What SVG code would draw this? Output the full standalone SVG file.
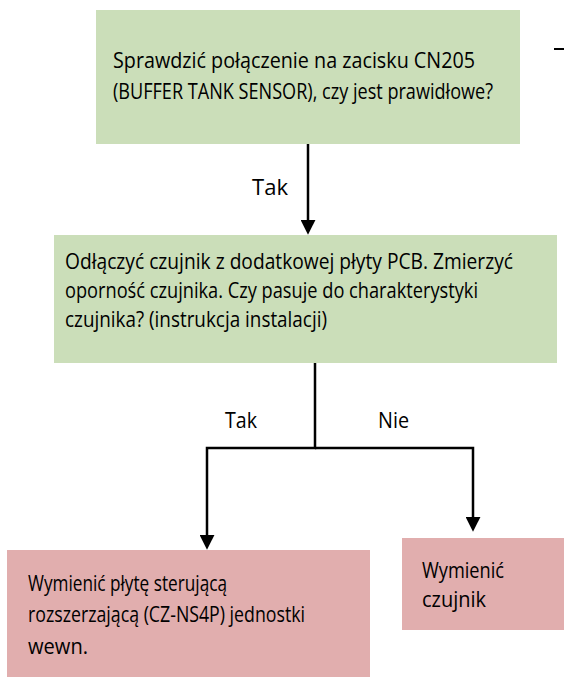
<svg xmlns="http://www.w3.org/2000/svg" width="564" height="677" viewBox="0 0 564 677">
<defs>
<style>
.green{fill:#cbdeb9;}
.pink{fill:#e1aeae;}
.t{font-family:"Open Sans",Lato,"Liberation Sans",sans-serif;font-size:21px;fill:#000;}
.c{fill:none;stroke:#000;stroke-width:2.5;}
</style>
<marker id="ah" viewBox="0 0 14 14" refX="2" refY="7" markerWidth="15" markerHeight="15" markerUnits="userSpaceOnUse" orient="auto">
<path d="M0,0 L14,7 L0,14 z" fill="#000"/>
</marker>
</defs>
<rect width="564" height="677" fill="#fff"/>
<g id="n1">
<rect class="green" x="96" y="10" width="424" height="134"/>
<text class="t" x="113" y="68" textLength="362" lengthAdjust="spacingAndGlyphs">Sprawdzić połączenie na zacisku CN205</text>
<text class="t" x="113" y="99" textLength="380" lengthAdjust="spacingAndGlyphs">(BUFFER TANK SENSOR), czy jest prawidłowe?</text>
</g>
<g id="n2">
<rect class="green" x="54" y="235" width="503" height="128"/>
<text class="t" x="65" y="269" textLength="448" lengthAdjust="spacingAndGlyphs">Odłączyć czujnik z dodatkowej płyty PCB. Zmierzyć</text>
<text class="t" x="65" y="298" textLength="413" lengthAdjust="spacingAndGlyphs">oporność czujnika. Czy pasuje do charakterystyki</text>
<text class="t" x="65" y="327" textLength="262" lengthAdjust="spacingAndGlyphs">czujnika? (instrukcja instalacji)</text>
</g>
<g id="n3">
<rect class="pink" x="7" y="550" width="363" height="127"/>
<text class="t" x="28" y="591" textLength="199" lengthAdjust="spacingAndGlyphs">Wymienić płytę sterującą</text>
<text class="t" x="28" y="622" textLength="277" lengthAdjust="spacingAndGlyphs">rozszerzającą (CZ-NS4P) jednostki</text>
<text class="t" x="28" y="654" textLength="60" lengthAdjust="spacingAndGlyphs">wewn.</text>
</g>
<g id="n4">
<rect class="pink" x="402" y="538" width="162" height="92"/>
<text class="t" x="422" y="578" textLength="82" lengthAdjust="spacingAndGlyphs">Wymienić</text>
<text class="t" x="422" y="607" textLength="64" lengthAdjust="spacingAndGlyphs">czujnik</text>
</g>
<g id="connectors">
<path class="c" d="M308,144 V222" marker-end="url(#ah)"/>
<path class="c" d="M315,363 V448 H207 V537" marker-end="url(#ah)"/>
<path class="c" d="M315,448 H473 V519" marker-end="url(#ah)"/>
<text class="t" x="252" y="195" textLength="36" lengthAdjust="spacingAndGlyphs">Tak</text>
<text class="t" x="225" y="428" textLength="32" lengthAdjust="spacingAndGlyphs">Tak</text>
<text class="t" x="378" y="428" textLength="31" lengthAdjust="spacingAndGlyphs">Nie</text>
</g>
<line x1="554" y1="49" x2="564" y2="49" stroke="#000" stroke-width="2"/>
</svg>
